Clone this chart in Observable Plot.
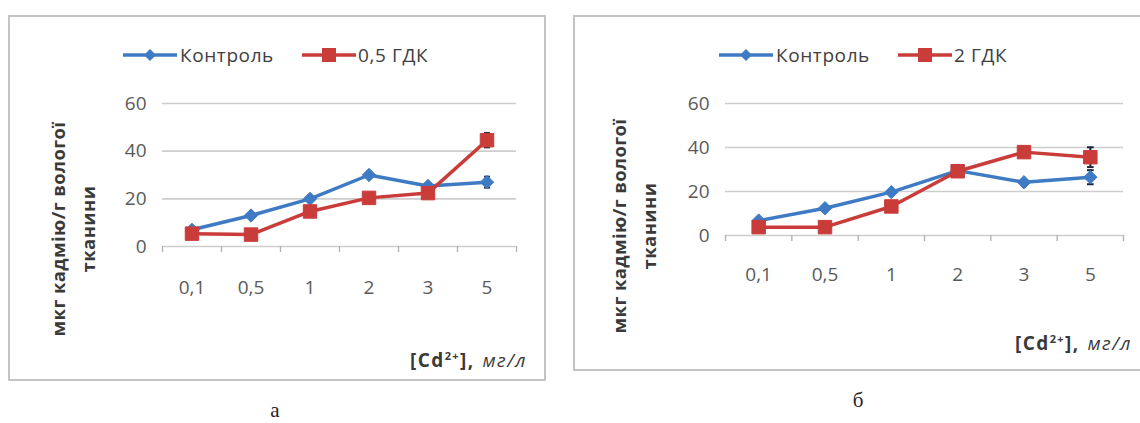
<!DOCTYPE html>
<html><head><meta charset="utf-8">
<script src="https://cdn.jsdelivr.net/npm/d3@7"></script>
<script src="https://cdn.jsdelivr.net/npm/@observablehq/plot@0.6"></script>
<style>
body{margin:0;width:1140px;height:423px;overflow:hidden;background:#fff;position:relative;font-family:"Open Sans",sans-serif}
.box{position:absolute;border:2px solid #c4c4c4;box-sizing:border-box}
.legend{position:absolute;display:flex;align-items:center;font-size:19px;letter-spacing:0.6px;color:#404040;white-space:nowrap}
.legend svg{display:block}
.ytitle{position:absolute;width:300px;text-align:center;font-weight:bold;font-size:18.5px;letter-spacing:0.4px;line-height:30px;color:#3a3a3a;transform:translate(-50%,-50%) rotate(-90deg);white-space:nowrap}
.xtitle{position:absolute;font-size:19px;letter-spacing:1.4px;color:#3a3a3a;white-space:nowrap;transform:translateY(-50%)}
.xtitle i{margin-left:8px}
.cap{position:absolute;font-family:"Liberation Serif",serif;font-size:21px;color:#222;transform:translate(-50%,-50%)}
</style></head>
<body>
<script>
const categories = ["0,1","0,5","1","2","3","5"];
const yTicks = [0,20,40,60];
const seriesNames = ["Контроль","0,5 ГДК","2 ГДК"];
// panel а
const controlA = [7,13,20,30,25.4,27];
const controlAErr = [0.6,0.8,1,1,1,2.3];
const gdkA = [5.4,5,14.7,20.4,22.4,44.6];
const gdkAErr = [0.5,0.6,1,1,1,3];
// panel б
const controlB = [6.8,12.4,19.7,29.5,24.2,26.5];
const controlBErr = [0.6,0.8,1,1,1,3.2];
const gdkB = [3.8,3.8,13.2,29.2,37.9,35.6];
const gdkBErr = [0.5,0.5,1,1,1.5,4.5];

const BLUE = "#3f7bc4", RED = "#c93c3a", ERR = "#1c2540";

function rows(vals, errs){ return categories.map((c,i)=>({i, c, v: vals[i], e: errs[i]})); }

function chart(ctrl, ctrlErr, tr, trErr, o){
  const A = rows(ctrl, ctrlErr), B = rows(tr, trErr);
  const edges = d3.range(categories.length+1).map(i=>i-0.5);
  const series = (D, color, symbol, r) => [
    Plot.line(D, {x:"i", y:"v", stroke:color, strokeWidth:3.5}),
    Plot.ruleX(D, {x:"i", y1:d=>d.v-d.e, y2:d=>d.v+d.e, stroke:ERR, strokeWidth:2}),
    Plot.link(D, {x1:d=>d.i-0.05, x2:d=>d.i+0.05, y1:d=>d.v+d.e, y2:d=>d.v+d.e, stroke:ERR, strokeWidth:2}),
    Plot.link(D, {x1:d=>d.i-0.05, x2:d=>d.i+0.05, y1:d=>d.v-d.e, y2:d=>d.v-d.e, stroke:ERR, strokeWidth:2}),
    Plot.dot(D, {x:"i", y:"v", symbol, r, fill:color, stroke:color, strokeWidth:1})
  ];
  return Plot.plot({
    width:o.width, height:o.height,
    marginLeft:o.ml, marginRight:o.mr, marginTop:o.mt, marginBottom:o.mb,
    style:{fontFamily:"Open Sans", background:"transparent", overflow:"visible"},
    x:{type:"linear", domain:[-0.5, categories.length-0.5]},
    y:{type:"linear", domain:[0,60]},
    marks:[
      Plot.ruleY(yTicks, {stroke:"#cdcdcd", strokeWidth:1.6}),
      Plot.ruleX(edges, {y1:0, y2:0, insetBottom:-6, stroke:"#b0b0b0", strokeWidth:1.3}),
      Plot.axisY(yTicks, {tickSize:0, tickPadding:o.ypad, fontSize:19, fill:"#5a5a5a", label:null}),
      Plot.axisX(d3.range(categories.length), {tickSize:0, tickPadding:o.xpad, fontSize:19, fill:"#5a5a5a", label:null, tickFormat:i=>categories[i]}),
      ...series(A, BLUE, "diamond2", 6),
      ...series(B, RED, "square", 7.6)
    ]
  });
}

function place(el, left, top){ el.style.position="absolute"; el.style.left=left+"px"; el.style.top=top+"px"; document.body.appendChild(el); }

function legend(left, top, name2){
  const d = document.createElement("div");
  d.className = "legend";
  d.style.left = left+"px"; d.style.top = top+"px";
  const sw = (color, shape) => {
    const s = d3.create("svg").attr("width",54).attr("height",18);
    s.append("line").attr("x1",0).attr("x2",54).attr("y1",9).attr("y2",9).attr("stroke",color).attr("stroke-width",3.5);
    if (shape==="d") s.append("path").attr("d","M27,3L33,9L27,15L21,9Z").attr("fill",color);
    else s.append("rect").attr("x",20).attr("y",2).attr("width",14).attr("height",14).attr("fill",color);
    return s.node();
  };
  d.appendChild(sw(BLUE,"d"));
  const t1 = document.createElement("span"); t1.textContent = seriesNames[0]; t1.style.margin="0 28px 0 3px";
  d.appendChild(t1);
  d.appendChild(sw(RED,"s"));
  const t2 = document.createElement("span"); t2.textContent = name2; t2.style.marginLeft="2px";
  d.appendChild(t2);
  document.body.appendChild(d);
}

function box(l,t,w,h){ const b=document.createElement("div"); b.className="box"; b.style.left=l+"px"; b.style.top=t+"px"; b.style.width=w+"px"; b.style.height=h+"px"; document.body.appendChild(b); }
function html(cls, l, t, inner){ const e=document.createElement("div"); e.className=cls; e.style.left=l+"px"; e.style.top=t+"px"; e.innerHTML=inner; document.body.appendChild(e); }

// panel а
box(8,15,538,366);
place(chart(controlA, controlAErr, gdkA, gdkAErr, {width:533, height:361, ml:152, mr:27, mt:86, mb:132, ypad:16, xpad:34}), 10, 17);
legend(123, 42, seriesNames[1]);
html("ytitle", 73, 229, "мкг кадмію/г вологої<br>тканини");
html("xtitle", 410, 360, "<b>[Cd<sup style='font-size:11px'>2+</sup>],</b><i>мг/л</i>");
html("cap", 275, 410, "а");

// panel б
box(573,15,600,356);
place(chart(controlB, controlBErr, gdkB, gdkBErr, {width:565, height:351, ml:150, mr:17, mt:86, mb:133, ypad:16, xpad:32}), 575, 17);
legend(719, 42, seriesNames[2]);
html("ytitle", 634, 226, "мкг кадмію/г вологої<br>тканини");
html("xtitle", 1015, 343, "<b>[Cd<sup style='font-size:11px'>2+</sup>],</b><i>мг/л</i>");
html("cap", 858, 400, "б");
</script>
</body></html>
